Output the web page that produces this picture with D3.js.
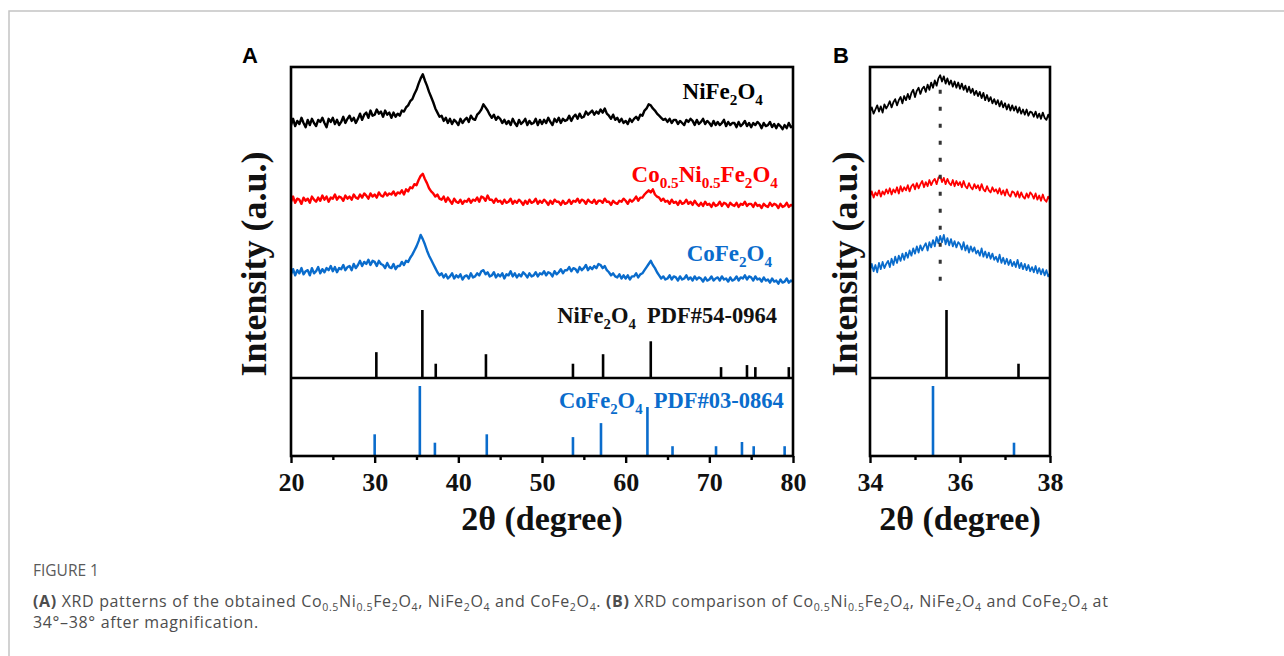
<!DOCTYPE html>
<html lang="en">
<head>
<meta charset="utf-8">
<title>XRD patterns</title>
<script src="https://cdn.jsdelivr.net/npm/d3@7"></script>
<style>
  body { margin: 0; background: #fff; }
</style>
</head>
<body>
<script>
// ---------- data ----------
// full scans, 20-80 deg, one value every 0.25 deg (intensity, a.u., curves already offset)
var scanStart = 20, scanStep = 0.25;
var niScan = [
244,250,243,248, 245,251,246,242, 249,244,250,246, 243,249,247,251, 246,242,250,247,
251,245,249,244, 247,252,246,250, 253,248,251,246, 250,255,249,254, 256,251,258,253,
254,259,255,257, 252,258,254,256, 251,256,252,255, 253,258,257,261, 263,267,269,274,
278,284,289,293, 287,282,276,271, 266,260,256,252, 253,248,251,246, 250,245,249,247,
244,250,246,249, 251,247,253,250, 249,254,256,259, 264,261,258,254, 251,254,249,252,
250,246,249,245, 248,244,250,246, 243,249,245,247, 250,244,248,245, 246,250,244,249,
245,249,246,251, 247,244,250,247, 251,246,250,248, 249,253,248,252, 254,250,255,251,
252,257,254,256, 258,254,257,255, 259,256,260,255, 253,250,254,249, 251,247,250,246,
248,245,250,247, 250,252,249,254, 253,258,260,264, 263,260,258,255, 253,251,249,250,
247,250,246,249, 249,245,248,246, 244,249,247,250, 248,244,249,245, 247,250,245,248,
246,243,248,244, 247,244,246,249, 243,247,244,246, 246,242,247,243, 245,248,243,246,
242,246,244,247, 245,241,246,243, 244,247,242,245, 241,245,243,240, 244,241,246,242,
243];
var coNiScan = [
170,175,169,173, 172,168,174,171, 173,169,175,172, 170,174,171,176, 172,175,170,174,
173,177,172,175, 174,171,176,173, 175,172,177,174, 173,177,174,178, 176,173,178,175,
177,174,179,176, 175,179,176,178, 177,180,176,179, 178,181,177,182, 180,184,183,187,
186,191,195,197, 192,188,183,180, 178,175,177,173, 172,175,170,174, 171,168,173,170,
169,172,168,171, 170,173,169,172, 171,174,170,175, 174,171,176,172, 172,169,173,170,
171,168,172,169, 170,173,168,171, 169,172,170,167, 171,168,172,169, 170,173,168,171,
169,172,170,167, 171,168,172,170, 170,167,171,168, 169,172,168,171, 170,173,169,172,
171,168,172,170, 169,172,168,171, 171,169,173,170, 170,167,171,169, 168,171,170,173,
171,168,172,170, 172,175,171,174, 174,177,179,181, 179,182,177,175, 174,171,173,170,
171,168,172,169, 170,167,171,168, 169,172,168,170, 167,171,168,166, 169,166,170,167,
168,165,169,166, 167,170,166,169, 168,165,169,167, 166,169,165,168, 167,170,166,168,
168,165,169,166, 167,164,168,166, 165,169,166,168, 167,164,168,165, 166,169,165,167,
166];
var coScan = [
100,105,99,104, 101,106,100,103, 104,99,106,101, 103,107,101,105, 102,106,104,108,
103,107,102,106, 105,109,104,107, 108,104,110,106, 109,113,108,112, 110,114,109,113,
112,108,113,110, 109,106,111,107, 106,110,105,108, 108,112,109,113, 112,116,119,123,
127,132,138,134, 129,123,118,114, 110,106,102,99, 101,97,100,96, 98,101,96,99,
97,100,95,98, 99,96,101,97, 98,101,99,103, 104,100,102,98, 99,102,97,100,
98,101,96,100, 99,103,98,101, 97,100,98,102, 100,97,101,98, 99,102,98,101,
100,103,99,102, 101,98,103,100, 102,105,101,104, 104,107,103,106, 105,102,107,104,
106,109,104,107, 105,108,106,110, 109,106,108,104, 102,99,101,98, 97,100,96,99,
96,99,95,98, 98,101,97,100, 101,104,107,110, 113,109,106,102, 99,96,98,95,
96,99,95,98, 97,94,98,95, 96,99,95,97, 94,98,95,97, 96,93,97,94,
95,98,94,96, 97,94,98,95, 96,93,97,94, 95,98,94,97, 96,99,95,98,
97,94,98,95, 96,93,97,94, 95,92,96,93, 94,91,95,92, 93,96,92,94,
93];

// magnified scans, 34-38 deg, one value every 0.04 deg
var zoomStart = 34, zoomStep = 0.04;
var niZoom = [
257,261,255,259,263,257,262,256,264,260, 263,267,261,266,269,263,268,271,265,272,
268,274,269,275,278,271,277,280,274,279, 281,276,283,278,285,280,287,282,289,292,
286,291,284,289,283,287,281,286,280,285, 279,284,278,282,276,281,275,279,273,277,
272,276,270,275,268,273,267,271,265,269, 264,268,262,267,261,265,259,264,258,263,
258,262,256,261,255,259,254,259,253,257, 256,252,257,251,255,250,256,251,249,254,
250];
var coNiZoom = [
175,180,174,179,176,181,175,180,177,182, 178,183,177,182,179,184,178,185,180,184,
181,186,180,185,187,182,188,183,187,190, 184,189,185,191,186,190,192,187,193,195,
189,193,187,192,188,186,191,185,190,186, 189,184,190,185,183,188,184,182,187,183,
186,181,187,182,180,185,181,179,184,180, 182,178,183,177,181,176,182,177,175,180,
179,175,180,174,179,175,173,178,174,179, 177,173,178,172,176,171,177,172,170,175,
172];
var coZoom = [
104,110,103,109,102,111,105,112,106,110, 113,107,115,109,117,111,118,113,120,114,
121,116,123,118,125,120,127,121,128,123, 127,130,123,131,126,133,127,136,130,137,
131,138,129,135,128,134,127,132,126,131, 129,124,131,123,128,121,127,122,126,120,
123,118,125,117,122,116,121,115,120,114, 117,112,119,111,116,110,115,109,114,108,
112,107,114,106,111,105,110,104,109,103, 107,102,108,101,106,100,105,99,104,98,
101];

// standard cards: position (deg) and relative intensity (%)
var niRefPos = [30.2, 35.7, 37.3, 43.3, 53.7, 57.3, 63.0, 71.4, 74.5, 75.5, 79.5];
var niRefInt = [38, 100, 21, 35, 21, 35, 54, 16, 19, 16, 16];
var coRefPos = [30.0, 35.4, 37.2, 43.4, 53.7, 57.05, 62.6, 65.6, 70.8, 73.9, 75.3, 79.0];
var coRefInt = [31, 100, 19, 31, 27, 47, 70, 14, 14, 20, 14, 14];

var ticksA = [20, 30, 40, 50, 60, 70, 80];
var minorA = [25, 35, 45, 55, 65, 75];
var ticksB = [34, 36, 38];
var minorB = [35, 37];
var peakGuide = 35.56;         // dotted line in (B)
var guideRange = [83, 278];    // a.u.

var colNi = "#000000", colCoNi = "#ff0000", colCo = "#0a6ccc";

// ---------- svg ----------
var W = 1284, H = 656;
var svg = d3.select("body").append("svg").attr("width", W).attr("height", H);
svg.append("rect").attr("width", W).attr("height", H).attr("fill", "#fff");

// card border
svg.append("path").attr("d", "M9,656 V11 H1284")
  .attr("fill", "none").attr("stroke", "#c4c4c4").attr("stroke-width", 1.5);

var serif = "'Liberation Serif','Times New Roman',serif";

// text with _{sub} and **bold** markup
function rich(g, x, y, str, size, color, anchor, family, weight) {
  var t = g.append("text").attr("x", x).attr("y", y)
    .attr("font-family", family || serif).attr("font-size", size)
    .attr("font-weight", weight || "bold").attr("fill", color)
    .attr("text-anchor", anchor || "start").style("white-space", "pre");
  var shift = 0;
  str.split(/(_\{[^}]*\}|\*\*[^*]*\*\*)/).forEach(function(p) {
    if (!p) return;
    var sp = t.append("tspan");
    if (p.indexOf("_{") === 0) {
      var s = size * 0.27;
      sp.text(p.slice(2, -1)).attr("font-size", size * 0.66).attr("dy", s - shift);
      shift = s;
    } else {
      if (p.indexOf("**") === 0) { p = p.slice(2, -2); sp.attr("font-weight", "bold"); }
      sp.text(p);
      if (shift) { sp.attr("dy", -shift); shift = 0; }
    }
  });
  return t;
}

function pts(arr, start, step) {
  return arr.map(function(v, i) { return [start + i * step, v]; });
}

// shared vertical scales
var yScan = d3.scaleLinear().domain([0, 300]).range([378, 67]);
var yNi = d3.scaleLinear().domain([0, 100]).range([378, 310]);
var yCo = d3.scaleLinear().domain([0, 100]).range([456, 386]);

function panel(p) {
  var x = p.x;
  var g = svg.append("g");
  var lo = x.domain()[0], hi = x.domain()[1];

  var line = d3.line().x(function(d) { return x(d[0]); }).y(function(d) { return yScan(d[1]); });
  p.scans.forEach(function(s) {
    g.append("path").datum(pts(s.values, p.start, p.step))
      .attr("d", line).attr("fill", "none").attr("stroke", s.color)
      .attr("stroke-width", p.lw).attr("stroke-linejoin", "round");
  });

  // reference sticks
  function sticks(pos, inten, y, color) {
    var d = pos.map(function(v, i) { return [v, inten[i]]; })
      .filter(function(e) { return e[0] >= lo && e[0] <= hi; });
    g.selectAll(null).data(d).enter().append("line")
      .attr("x1", function(e) { return x(e[0]); }).attr("x2", function(e) { return x(e[0]); })
      .attr("y1", y(0)).attr("y2", function(e) { return y(e[1]); })
      .attr("stroke", color).attr("stroke-width", 2.6);
  }
  sticks(niRefPos, niRefInt, yNi, colNi);
  sticks(coRefPos, coRefInt, yCo, colCo);

  // frame + divider
  g.append("rect").attr("x", x(lo)).attr("y", yScan(300))
    .attr("width", x(hi) - x(lo)).attr("height", yCo(0) - yScan(300))
    .attr("fill", "none").attr("stroke", "#000").attr("stroke-width", 2.6);
  g.append("line").attr("x1", x(lo)).attr("x2", x(hi)).attr("y1", yNi(0)).attr("y2", yNi(0))
    .attr("stroke", "#000").attr("stroke-width", 2.6);

  // x axis
  var ax = g.append("g").attr("transform", "translate(0," + yCo(0) + ")")
    .call(d3.axisBottom(x).tickValues(p.ticks).tickSize(7).tickPadding(10).tickFormat(d3.format("d")));
  ax.select(".domain").remove();
  ax.selectAll("line").attr("stroke-width", 2.4);
  ax.selectAll("text").attr("font-family", serif).attr("font-size", 26)
    .attr("font-weight", "bold").attr("fill", "#111");
  var mx = g.append("g").attr("transform", "translate(0," + yCo(0) + ")")
    .call(d3.axisBottom(x).tickValues(p.minor).tickSize(4).tickFormat(""));
  mx.select(".domain").remove();
  mx.selectAll("line").attr("stroke-width", 2.4);

  rich(g, (x(lo) + x(hi)) / 2, 530, "2\u03b8 (degree)", 34, "#111", "middle");
  rich(g, 0, 0, "Intensity (a.u.)", 36, "#111", "middle")
    .attr("transform", "translate(" + p.ytx + ",264) rotate(-90)");
  rich(g, p.letterX, 63, p.letter, 22, "#000", "start", "'Liberation Sans',Arial,sans-serif");
  return g;
}

var xA = d3.scaleLinear().domain([20, 80]).range([291, 793]);
var gA = panel({
  x: xA, start: scanStart, step: scanStep, lw: 2.4,
  scans: [{ values: niScan, color: colNi }, { values: coNiScan, color: colCoNi }, { values: coScan, color: colCo }],
  ticks: ticksA, minor: minorA, ytx: 266, letter: "A", letterX: 242
});
rich(gA, xA(76.4), 99, "NiFe_{2}O_{4}", 23, colNi, "end");
rich(gA, xA(78.2), 182, "Co_{0.5}Ni_{0.5}Fe_{2}O_{4}", 23, colCoNi, "end");
rich(gA, xA(77.5), 261, "CoFe_{2}O_{4}", 23, colCo, "end");
rich(gA, xA(78.1), 323, "NiFe_{2}O_{4}  PDF#54-0964", 22.5, "#111", "end");
rich(gA, xA(78.9), 408, "CoFe_{2}O_{4}  PDF#03-0864", 22.5, colCo, "end");

var xB = d3.scaleLinear().domain([34, 38]).range([870, 1050]);
var gB = panel({
  x: xB, start: zoomStart, step: zoomStep, lw: 1.8,
  scans: [{ values: niZoom, color: colNi }, { values: coNiZoom, color: colCoNi }, { values: coZoom, color: colCo }],
  ticks: ticksB, minor: minorB, ytx: 857, letter: "B", letterX: 833
});
gB.append("line").attr("x1", xB(peakGuide)).attr("x2", xB(peakGuide))
  .attr("y1", yScan(guideRange[1])).attr("y2", yScan(guideRange[0]))
  .attr("stroke", "#333").attr("stroke-width", 3).attr("stroke-dasharray", "4,13");

// caption
var sans = "'Open Sans','Noto Sans',sans-serif";
var cap = svg.append("g");
rich(cap, 33, 576, "FIGURE 1", 15.5, "#5a5a5a", "start", sans, "normal");
rich(cap, 33, 607, "**(A)** XRD patterns of the obtained Co_{0.5}Ni_{0.5}Fe_{2}O_{4}, NiFe_{2}O_{4} and CoFe_{2}O_{4}. **(B)** XRD comparison of Co_{0.5}Ni_{0.5}Fe_{2}O_{4}, NiFe_{2}O_{4} and CoFe_{2}O_{4} at",
  16, "#4d4d4d", "start", sans, "normal").style("letter-spacing", "0.65px");
rich(cap, 33, 628, "34\u00b0\u201338\u00b0 after magnification.", 16, "#4d4d4d", "start", sans, "normal")
  .style("letter-spacing", "0.65px");
</script>
</body>
</html>
